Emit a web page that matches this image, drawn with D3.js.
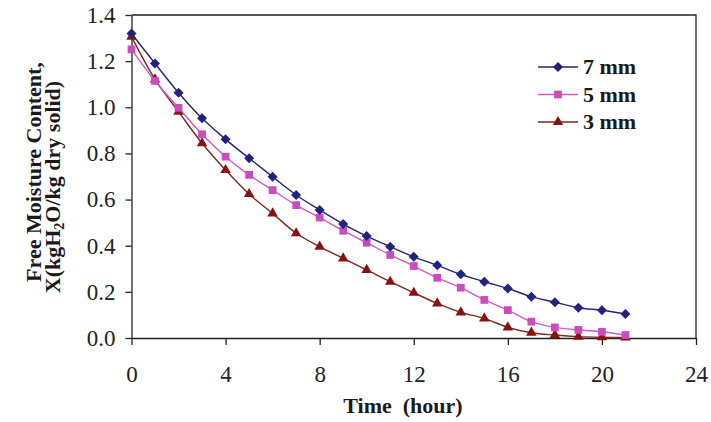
<!DOCTYPE html>
<html>
<head>
<meta charset="utf-8">
<script src="https://cdn.jsdelivr.net/npm/d3@7"></script>
<style>
  body { margin: 0; background: #fff; }
  svg { display: block; }
  .axis text { font-family: "Liberation Serif", "Times New Roman", serif; font-size: 23px; fill: #222; }
  .axis path, .axis line { stroke: #222; stroke-width: 1.3; }
  .label { font-family: "Liberation Serif", "Times New Roman", serif; font-size: 22px; font-weight: bold; fill: #1a1a1a; }
</style>
</head>
<body>
<div class="canvas"></div>
<script>
// data (hours 0..21)
const hours = d3.range(0, 22);
const mm7 = [1.32, 1.19, 1.063, 0.952, 0.861, 0.779, 0.699, 0.62, 0.555, 0.494, 0.442,
             0.396, 0.352, 0.315, 0.276, 0.244, 0.215, 0.179, 0.155, 0.131, 0.12, 0.104];
const mm5 = [1.251, 1.114, 0.998, 0.883, 0.786, 0.707, 0.641, 0.576, 0.522, 0.465, 0.413,
             0.36, 0.312, 0.261, 0.218, 0.165, 0.121, 0.071, 0.046, 0.035, 0.027, 0.013];
const mm3 = [1.306, 1.121, 0.981, 0.844, 0.728, 0.624, 0.54, 0.454, 0.396, 0.345, 0.295,
             0.244, 0.196, 0.15, 0.111, 0.085, 0.046, 0.023, 0.013, 0.006, 0.003, 0.002];
const seriesNames = ['7 mm', '5 mm', '3 mm'];
const xTicks = [0, 4, 8, 12, 16, 20, 24];
const yTicks = [0, 0.2, 0.4, 0.6, 0.8, 1.0, 1.2, 1.4];

const series = [
  { name: seriesNames[0], values: mm7, line: '#26266e', fill: '#22227f', shape: 'diamond' },
  { name: seriesNames[1], values: mm5, line: '#d257c8', fill: '#c94dbd', shape: 'square' },
  { name: seriesNames[2], values: mm3, line: '#7a2a22', fill: '#8b1010', shape: 'triangle' }
];

const W = 711, H = 422;
const margin = { top: 15, right: 15, bottom: 84, left: 131.5 };
const graphWidth = W - margin.left - margin.right;
const graphHeight = H - margin.top - margin.bottom;

const svg = d3.select('.canvas')
  .append('svg')
  .attr('width', W)
  .attr('height', H);

const graph = svg.append('g')
  .attr('transform', `translate(${margin.left}, ${margin.top})`);

const x = d3.scaleLinear().domain([0, 24]).range([0, graphWidth]);
const y = d3.scaleLinear().domain([0, 1.4]).range([graphHeight, 0]);

// frame (top and right)
graph.append('path')
  .attr('d', `M0,0H${graphWidth}V${graphHeight}`)
  .attr('fill', 'none')
  .attr('stroke', '#222')
  .attr('stroke-width', 1.3);

const xAxis = d3.axisBottom(x).tickValues(xTicks).tickSize(7).tickSizeOuter(0).tickPadding(21);
const yAxis = d3.axisLeft(y).tickValues(yTicks).tickSize(6).tickSizeOuter(0).tickPadding(10)
  .tickFormat(d3.format('.1f'));

graph.append('g').attr('class', 'axis')
  .attr('transform', `translate(0, ${graphHeight})`)
  .call(xAxis);
graph.append('g').attr('class', 'axis').call(yAxis);

// symbols
function symbolPath(shape) {
  if (shape === 'diamond') return d3.symbol(d3.symbolSquare, 50)();
  if (shape === 'square') return d3.symbol(d3.symbolSquare, 60)();
  return d3.symbol(d3.symbolTriangle, 48)();
}
const symbolRotate = shape => shape === 'diamond' ? ' rotate(45)' : '';

const line = d3.line()
  .x((d, i) => x(hours[i]))
  .y(d => y(d))
  .curve(d3.curveCatmullRom.alpha(0.5));

// draw from back to front: 3 mm, 5 mm, 7 mm
series.slice().reverse().forEach(s => {
  graph.append('path')
    .attr('d', line(s.values))
    .attr('fill', 'none')
    .attr('stroke', s.line)
    .attr('stroke-width', 1.4);

  graph.selectAll(null)
    .data(s.values)
    .enter()
    .append('path')
    .attr('d', symbolPath(s.shape))
    .attr('transform', (d, i) => `translate(${x(hours[i])}, ${y(d)})${symbolRotate(s.shape)}`)
    .attr('fill', s.fill);
});

// legend
const legend = svg.append('g').attr('transform', 'translate(538, 67)');
series.forEach((s, i) => {
  const row = legend.append('g').attr('transform', `translate(0, ${i * 27.5})`);
  row.append('line')
    .attr('x1', 0).attr('x2', 40)
    .attr('stroke', s.line).attr('stroke-width', 1.4);
  row.append('path')
    .attr('d', symbolPath(s.shape))
    .attr('transform', `translate(20, 0)${symbolRotate(s.shape)}`)
    .attr('fill', s.fill);
  row.append('text')
    .attr('class', 'label')
    .attr('x', 45).attr('y', 7)
    .text(s.name);
});

// axis titles
svg.append('text')
  .attr('class', 'label')
  .attr('x', 403).attr('y', 413)
  .attr('text-anchor', 'middle')
  .attr('xml:space', 'preserve')
  .text('Time  (hour)');

const yTitle = svg.append('g').attr('transform', 'translate(0, 178) rotate(-90)');
yTitle.append('text')
  .attr('class', 'label')
  .attr('x', 6).attr('y', 41)
  .attr('text-anchor', 'middle')
  .text('Free Moisture Content,');
const t2 = yTitle.append('text')
  .attr('class', 'label')
  .attr('x', -9).attr('y', 60)
  .attr('text-anchor', 'middle');
t2.append('tspan').text('X(kgH');
t2.append('tspan').attr('font-size', '14px').attr('dy', 4).text('2');
t2.append('tspan').attr('dy', -4).text('O/kg dry solid)');
</script>
</body>
</html>
